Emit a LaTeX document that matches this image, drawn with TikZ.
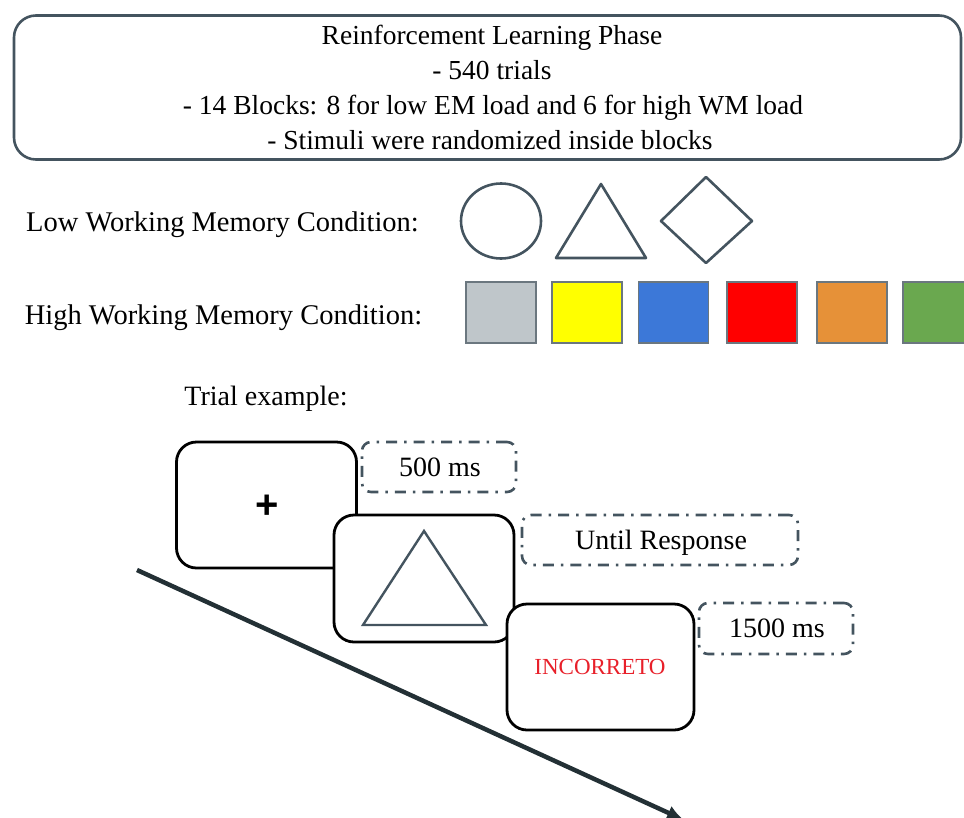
\documentclass[tikz,border=0pt]{standalone}
\usepackage{fontspec}
\setmainfont{Liberation Serif}
\setsansfont{Liberation Sans}
\usetikzlibrary{arrows.meta}
\begin{document}
\begin{tikzpicture}[x=1pt,y=-1pt,
  frame/.style={draw=slate, line width=2.6pt, rounded corners=22pt},
  shp/.style={draw=slate, line width=2.6pt, line join=round},
  swatch/.style={draw=swgray, line width=1.3pt, minimum width=70pt, minimum height=61pt, inner sep=0pt},
  screen/.style={draw=black, fill=white, line width=2.8pt, rounded corners=20pt, inner sep=0pt},
  dur/.style={draw=slate, line width=2.6pt, rounded corners=9pt, dash pattern=on 11pt off 7pt on 2.5pt off 7pt, inner sep=0pt},
  lbl/.style={inner sep=0pt, anchor=base, font=\fontsize{28}{30}\selectfont},
  hlbl/.style={inner sep=0pt, anchor=base, font=\fontsize{27.5}{30}\selectfont}
]
\definecolor{slate}{HTML}{44545F}
\definecolor{swgray}{HTML}{6B777F}
\definecolor{arrowc}{HTML}{233035}
\definecolor{incred}{HTML}{E8202A}
\useasboundingbox (0,0) rectangle (964,817);

% header box
\node[frame, minimum width=947pt, minimum height=144pt, inner sep=0pt] (head) at (487.5,87.5) {};
\node[hlbl] (h1) at (492,44.5) {Reinforcement Learning Phase};
\node[hlbl] (h2) at (492,79) {- 540 trials};
\node[hlbl] (h3) at (493,114.5) {- 14 Blocks: 8 for low EM load and 6 for high WM load};
\node[hlbl] (h4) at (490,149) {- Stimuli were randomized inside blocks};

% conditions
\node[lbl, font=\fontsize{28.5}{30}\selectfont] (low) at (222.5,231) {Low Working Memory Condition:};
\node[lbl, font=\fontsize{28.5}{30}\selectfont] (high) at (223.5,324) {High Working Memory Condition:};

\draw[shp] (501,221) ellipse [x radius=40, y radius=37.5];
\draw[shp] (601,184) -- (646,258) -- (556,258) -- cycle;
\draw[shp] (706,177) -- (752,221) -- (706,263) -- (661,221) -- cycle;

\node[swatch, fill={rgb,255:red,191;green,198;blue,202}] (s1) at (501,312.5) {};
\node[swatch, fill={rgb,255:red,255;green,255;blue,0}] (s2) at (587,312.5) {};
\node[swatch, fill={rgb,255:red,60;green,120;blue,216}] (s3) at (673.5,312.5) {};
\node[swatch, fill={rgb,255:red,255;green,0;blue,0}] (s4) at (762,312.5) {};
\node[swatch, fill={rgb,255:red,230;green,145;blue,56}] (s5) at (852,312.5) {};
\node[swatch, fill={rgb,255:red,106;green,168;blue,79}] (s6) at (938,312.5) {};

% trial example
\node[lbl] (trial) at (266,405) {Trial example:};

\coordinate (tstart) at (137,570);
\coordinate (tend) at (684,820);
\draw[line width=4.5pt, draw=arrowc, -{Latex[length=17pt,width=15pt]}] (tstart) -- (tend);

\node[screen, minimum width=180pt, minimum height=126pt] (scr1) at (266.5,505) {};
\node[font=\sffamily\bfseries\fontsize{40}{40}\selectfont, inner sep=0pt] (plus) at (267.5,507) {+};
\node[screen, minimum width=180pt, minimum height=127pt] (scr2) at (424,578.5) {};
\draw[shp, line width=2.4pt, line join=miter] (424,531) -- (486,625) -- (363,625) -- cycle;
\node[screen, minimum width=187pt, minimum height=126pt] (scr3) at (600.5,667) {};
\node[inner sep=0pt, anchor=base, text=incred, font=\fontsize{23}{24}\selectfont] (inc) at (600,674) {INCORRETO};

\node[dur, minimum width=154pt, minimum height=50pt] (d1) at (439,467) {};
\node[lbl] (t1) at (440,476) {500 ms};
\node[dur, minimum width=276pt, minimum height=50pt] (d2) at (660,540) {};
\node[lbl] (t2) at (661,549.5) {Until Response};
\node[dur, minimum width=154pt, minimum height=51pt] (d3) at (776,628.5) {};
\node[lbl] (t3) at (777,637.5) {1500 ms};
\end{tikzpicture}
\end{document}
